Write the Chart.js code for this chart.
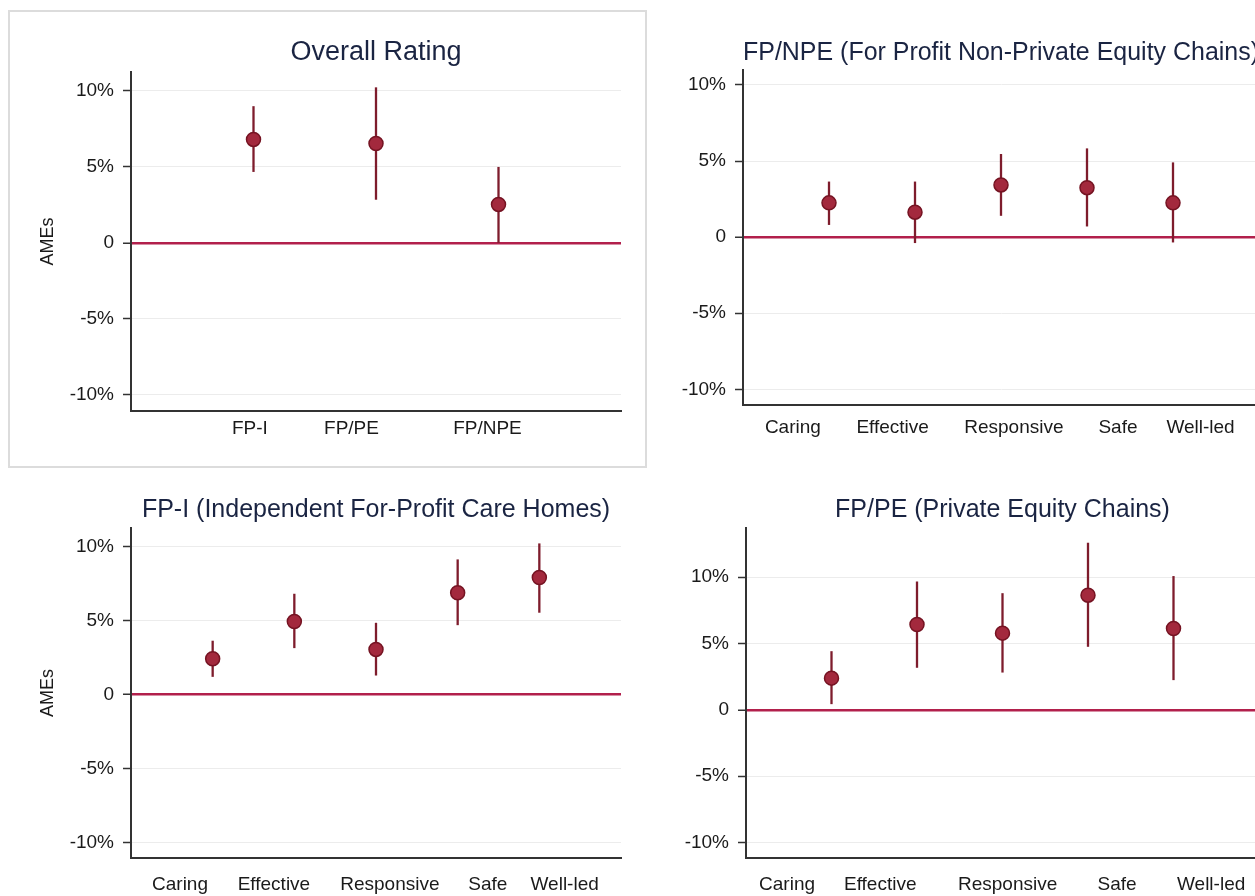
<!DOCTYPE html>
<html>
<head>
<meta charset="utf-8">
<script src="https://cdn.jsdelivr.net/npm/chart.js@4/dist/chart.umd.min.js"></script>
<style>
  html, body { margin: 0; padding: 0; background: #fff; }
  body { width: 1255px; height: 896px; overflow: hidden; position: relative; }
  .wrap { position: absolute; }
  #frame { position: absolute; left: 8px; top: 10px; width: 635px; height: 454px; border: 2px solid #dcdcdc; }
</style>
</head>
<body>
<div id="frame"></div>
<div class="wrap"><canvas id="c1"></canvas></div>
<div class="wrap"><canvas id="c2"></canvas></div>
<div class="wrap"><canvas id="c3"></canvas></div>
<div class="wrap"><canvas id="c4"></canvas></div>
<script>
// valeurs (AMEs en %)
const overallCats = ['FP-I', 'FP/PE', 'FP/NPE'];
const overallEst = [6.81, 6.54, 2.53];
const overallLo = [4.67, 2.84, 0.0];
const overallHi = [9.0, 10.24, 5.0];

const domainCats = ['Caring', 'Effective', 'Responsive', 'Safe', 'Well-led'];

const npeEst = [2.25, 1.64, 3.43, 3.25, 2.25];
const npeLo = [0.8, -0.39, 1.4, 0.7, -0.35];
const npeHi = [3.65, 3.65, 5.46, 5.83, 4.91];

const fpiEst = [2.41, 4.93, 3.04, 6.87, 7.9];
const fpiLo = [1.19, 3.13, 1.28, 4.68, 5.52];
const fpiHi = [3.63, 6.8, 4.84, 9.12, 10.2];

const peEst = [2.39, 6.43, 5.78, 8.64, 6.13];
const peLo = [0.43, 3.17, 2.81, 4.75, 2.24];
const peHi = [4.42, 9.67, 8.79, 12.59, 10.08];

const yTicks = [-10, -5, 0, 5, 10];

Chart.defaults.font.family = "'Liberation Sans', Arial, sans-serif";
Chart.defaults.animation = false;

const axisC = '#333333';
const gridC = '#ececec';
const zeroC = '#b2204c';
const ciC = '#7e1c2c';
const dotC = '#a3293d';
const dotEdge = '#751322';
const titleC = '#1a2442';
const textC = '#1a1a1a';

function panel(p) {
  const cv = document.getElementById(p.id);
  const [cl, ct, cw, ch] = p.box;
  const [al, at, ar, ab] = p.area;
  const wrap = cv.parentNode;
  wrap.style.left = cl + 'px';
  wrap.style.top = ct + 'px';
  cv.width = cw;
  cv.height = ch;

  const lh = p.titleSize * 1.2;
  const tTop = p.titleY - ct - lh / 2;
  const tBot = at - ct - tTop - lh;

  // les points en premier plan, les intervalles derriere
  const datasets = [{
    type: 'scatter',
    data: p.est.map((v, i) => ({x: i + 1, y: v})),
    pointRadius: 7,
    pointBackgroundColor: dotC,
    pointBorderColor: dotEdge,
    pointBorderWidth: 1.5,
    order: 0
  }];
  p.cats.forEach((c, i) => {
    datasets.push({
      type: 'line',
      data: [{x: i + 1, y: p.lo[i]}, {x: i + 1, y: p.hi[i]}],
      borderColor: ciC,
      borderWidth: 2.3,
      pointRadius: 0,
      order: 1
    });
  });

  new Chart(cv, {
    type: 'scatter',
    data: {datasets: datasets},
    options: {
      responsive: false,
      layout: {padding: {left: 0, top: 0, bottom: 0, right: cl + cw - ar}},
      plugins: {
        legend: {display: false},
        tooltip: {enabled: false},
        title: {
          display: true,
          text: p.title,
          fullSize: false,
          color: titleC,
          font: {size: p.titleSize, weight: 'normal'},
          padding: {top: tTop, bottom: tBot}
        }
      },
      scales: {
        x: {
          type: 'linear',
          min: 0,
          max: p.xMax,
          grid: {display: false, drawTicks: false},
          border: {color: axisC, width: 2},
          afterBuildTicks: s => { s.ticks = p.labelAt.map(v => ({value: v})); },
          afterFit: s => { s.height = ct + ch - ab; },
          ticks: {
            autoSkip: false,
            maxRotation: 0,
            padding: p.labelPad,
            color: textC,
            font: {size: 19},
            callback: (v, i) => p.cats[i]
          }
        },
        y: {
          min: p.yRange[0],
          max: p.yRange[1],
          afterBuildTicks: s => { s.ticks = yTicks.map(v => ({value: v})); },
          afterFit: s => { s.width = al - cl; },
          border: {color: axisC, width: 2},
          grid: {
            color: ctx => (ctx.tick && ctx.tick.value === 0) ? zeroC : gridC,
            lineWidth: ctx => (ctx.tick && ctx.tick.value === 0) ? 2.5 : 1,
            tickColor: axisC,
            tickLength: 8,
            tickWidth: 1.5
          },
          ticks: {
            padding: 9,
            color: textC,
            font: {size: 19},
            callback: v => v === 0 ? '0' : v + '%'
          },
          title: {
            display: p.ames,
            text: 'AMEs',
            color: textC,
            font: {size: 18},
            padding: {top: p.amesX - cl - 10.8, bottom: 0}
          }
        }
      }
    }
  });
}

panel({
  id: 'c1', title: 'Overall Rating', cats: overallCats,
  est: overallEst, lo: overallLo, hi: overallHi,
  box: [8, 10, 637, 456], area: [131, 72, 621, 411],
  yRange: [-11.07, 11.25], xMax: 4, labelAt: [0.97, 1.8, 2.91],
  titleSize: 27, titleY: 53, ames: true, amesX: 48, labelPad: 6
});

panel({
  id: 'c2', title: 'FP/NPE (For Profit Non-Private Equity Chains)', cats: domainCats,
  est: npeEst, lo: npeLo, hi: npeHi,
  box: [650, 0, 620, 460], area: [743, 70, 1259, 405],
  yRange: [-11.03, 10.98], xMax: 6, labelAt: [0.58, 1.74, 3.15, 4.36, 5.32],
  titleSize: 25, titleY: 53, ames: false, amesX: 0, labelPad: 11
});

panel({
  id: 'c3', title: 'FP-I (Independent For-Profit Care Homes)', cats: domainCats,
  est: fpiEst, lo: fpiLo, hi: fpiHi,
  box: [0, 470, 650, 426], area: [131, 528, 621, 858],
  yRange: [-11.04, 11.24], xMax: 6, labelAt: [0.6, 1.75, 3.17, 4.37, 5.31],
  titleSize: 25, titleY: 510, ames: true, amesX: 48, labelPad: 15
});

panel({
  id: 'c4', title: 'FP/PE (Private Equity Chains)', cats: domainCats,
  est: peEst, lo: peLo, hi: peHi,
  box: [650, 470, 620, 426], area: [746, 528, 1259, 858],
  yRange: [-11.16, 13.7], xMax: 6, labelAt: [0.48, 1.57, 3.06, 4.34, 5.44],
  titleSize: 25, titleY: 510, ames: false, amesX: 0, labelPad: 15
});
</script>
</body>
</html>
